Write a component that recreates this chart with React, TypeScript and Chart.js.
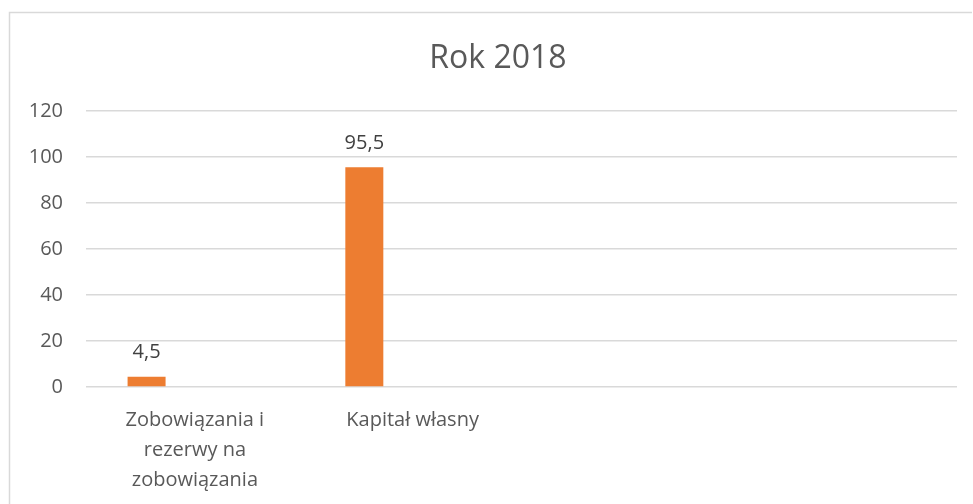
import React, { useEffect, useRef } from "react";
import { Chart, registerables } from "chart.js";

Chart.register(...registerables);

const chartTitle = "Rok 2018";
const categories: (string | string[])[] = [
  ["Zobowiązania i", "rezerwy na", "zobowiązania"],
  "Kapitał własny",
  "",
  "",
];
const seriesA: (number | null)[] = [4.5, 95.5, null, null];
const seriesB: (number | null)[] = [null, null, null, null];
const seriesC: (number | null)[] = [null, null, null, null];
const yTicks = { min: 0, max: 120, step: 20 };

const textColor = "#595959";
const gridColor = "#D9D9D9";
const barColor = "#ED7D31";
const fontFamily = "'Open Sans', sans-serif";

const fmt = (v: number) => String(v).replace(".", ",");

const borderPlugin = {
  id: "frameBorder",
  beforeDraw(chart: any) {
    const ctx = chart.ctx;
    ctx.save();
    ctx.strokeStyle = gridColor;
    ctx.lineWidth = 1.5;
    ctx.beginPath();
    ctx.moveTo(9.5, chart.height);
    ctx.lineTo(9.5, 12.5);
    ctx.lineTo(972, 12.5);
    ctx.stroke();
    ctx.restore();
  },
};

const dataLabelPlugin = {
  id: "dataLabels",
  afterDatasetsDraw(chart: any) {
    const ctx = chart.ctx;
    ctx.save();
    ctx.font = `20px ${fontFamily}`;
    ctx.fillStyle = "#404040";
    ctx.textAlign = "center";
    ctx.textBaseline = "middle";
    chart.data.datasets.forEach((ds: any, di: number) => {
      const meta = chart.getDatasetMeta(di);
      meta.data.forEach((el: any, i: number) => {
        const v = ds.data[i];
        if (v === null || v === undefined) return;
        ctx.fillText(fmt(v), el.x, el.y - 24);
      });
    });
    ctx.restore();
  },
};

export default function App() {
  const ref = useRef<HTMLCanvasElement>(null);
  useEffect(() => {
    if (!ref.current) return;
    Chart.defaults.font.family = fontFamily;
    const common = { backgroundColor: barColor, categoryPercentage: 0.6654, barPercentage: 0.7867 };
    const chart = new Chart(ref.current, {
      type: "bar",
      data: {
        labels: categories,
        datasets: [
          { label: "A", data: seriesA, ...common },
          { label: "B", data: seriesB, ...common },
          { label: "C", data: seriesC, ...common },
        ],
      },
      options: {
        responsive: false,
        animation: false,
        layout: { padding: { left: 23, right: 0, top: 0, bottom: 0 } },
        plugins: {
          legend: { display: false },
          tooltip: { enabled: false },
          title: {
            display: true,
            text: chartTitle,
            color: textColor,
            font: { size: 32, weight: "normal", family: fontFamily, lineHeight: 1.2 },
            padding: { top: 40, bottom: 32.6 },
          },
        },
        scales: {
          x: {
            grid: { display: false, drawTicks: false },
            border: { display: false },
            ticks: {
              color: textColor,
              font: { size: 20, family: fontFamily, lineHeight: 1.5 },
              padding: 18,
              maxRotation: 0,
              autoSkip: false,
            },
            afterFit(scale: any) {
              scale.height = 117;
            },
          },
          y: {
            min: yTicks.min,
            max: yTicks.max,
            grid: { color: gridColor, lineWidth: 1.5, drawTicks: false },
            border: { display: false },
            ticks: {
              stepSize: yTicks.step,
              color: textColor,
              font: { size: 20, family: fontFamily },
              padding: 23,
            },
            afterFit(scale: any) {
              scale.width = 63;
            },
          },
          yRight: {
            position: "right",
            min: yTicks.min,
            max: yTicks.max,
            grid: { display: false, drawTicks: false },
            border: { display: false },
            ticks: { display: false },
            afterFit(scale: any) {
              scale.width = 16;
            },
          },
        },
      },
      plugins: [borderPlugin, dataLabelPlugin],
    });
    return () => chart.destroy();
  }, []);
  return (
    <div style={{ position: "fixed", left: 0, top: 0, width: 973, height: 504, background: "#fff" }}>
      <canvas ref={ref} width={973} height={504} style={{ display: "block" }} />
    </div>
  );
}
